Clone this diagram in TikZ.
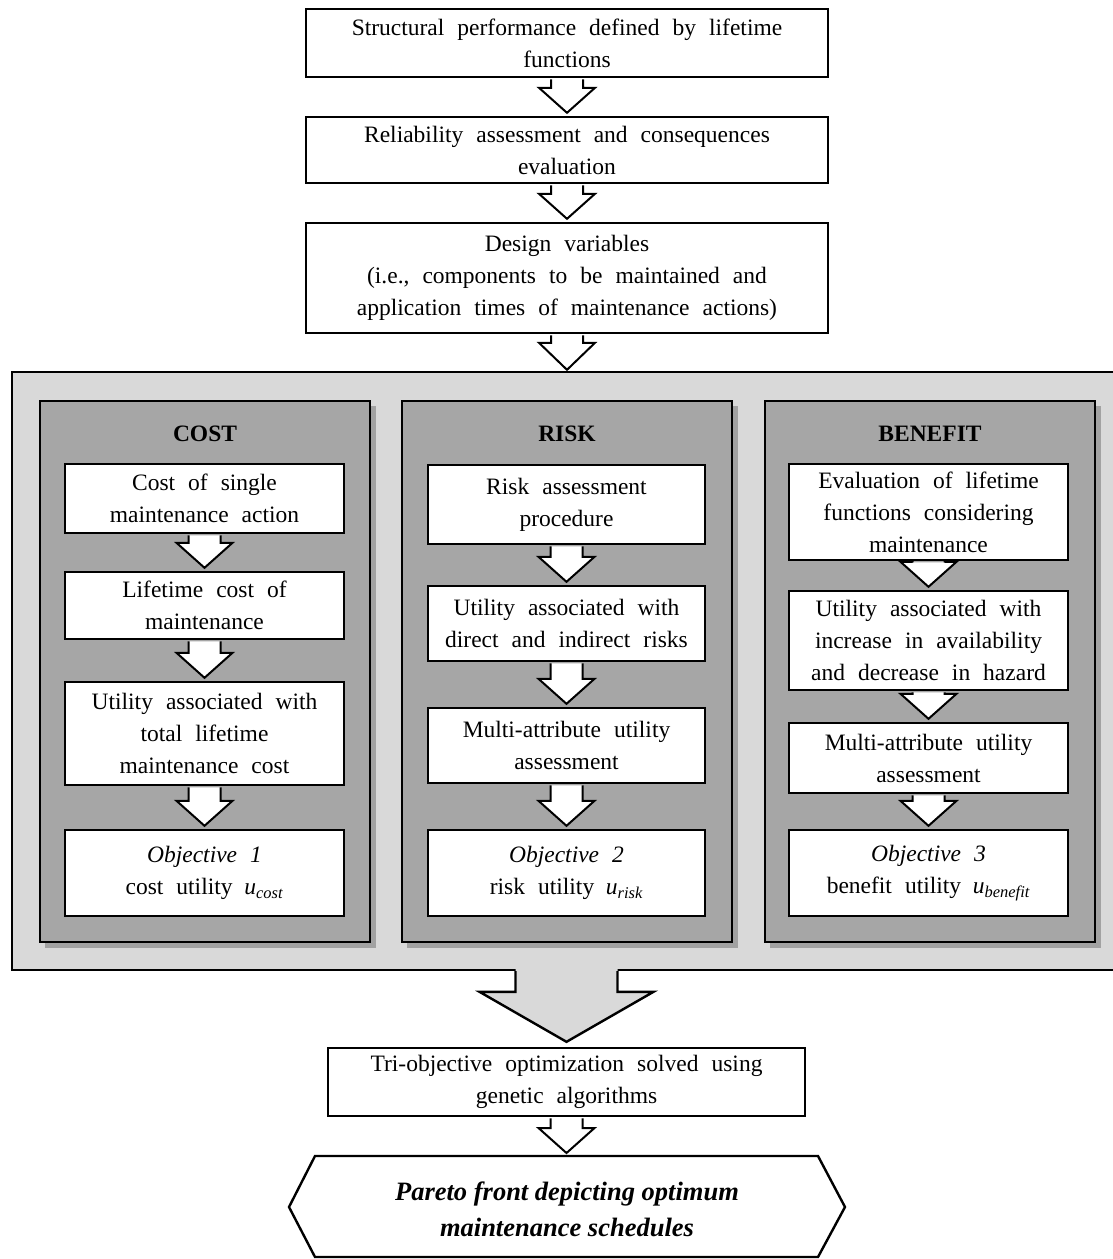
\documentclass[tikz,border=0pt]{standalone}
\usepackage{fontspec}
\setmainfont{Liberation Serif}
\usetikzlibrary{calc}
\definecolor{panelLight}{HTML}{D9D9D9}
\definecolor{panelMid}{HTML}{A6A6A6}

% wide word spacing used in the flow boxes
\newcommand\widewords{\spaceskip=13pt plus 3pt minus 2pt\relax}

% block arrow from the bottom of one node to the top of another
\newcommand\flowarrow[2]{%
  \draw[line width=2pt, fill=white, line join=miter]
    let \p1=(#1.south), \p2=(#2.north) in
    (\x1-16,\y1-1.2) -- (\x1-16,\y2+28) -- (\x1-28,\y2+28) -- (\x1,\y2+3)
    -- (\x1+28,\y2+28) -- (\x1+16,\y2+28) -- (\x1+16,\y1-1.2);
}

\begin{document}
\begin{tikzpicture}[x=1pt,y=-1pt,
  every node/.style={font=\fontsize{23.5}{32}\selectfont},
  box/.style={draw=black, line width=2.4pt, fill=white, align=center, inner sep=0pt,
    execute at begin node=\widewords},
  costcol/.style={box, minimum width=279pt},
  riskcol/.style={box, minimum width=277pt},
  benecol/.style={box, minimum width=279pt},
  panel/.style={draw=black, line width=2.4pt, fill=panelMid, minimum width=330pt, minimum height=541pt, inner sep=0pt},
  paneltitle/.style={font=\fontsize{23.5}{32}\selectfont\bfseries},
  shadowfill/.style={fill=black, opacity=0.25}
]
\useasboundingbox (0,0) rectangle (1113,1259);

% ---------- top chain ----------
\node[box, minimum width=522pt, minimum height=68pt] (perf) at (567,43)
  {Structural performance defined by lifetime\\functions};
\node[box, minimum width=522pt, minimum height=66pt] (rel) at (567,150)
  {Reliability assessment and consequences\\evaluation};
\node[box, minimum width=522pt, minimum height=110pt] (design) at (567,278)
  {Design variables\\(i.e., components to be maintained and\\application times of maintenance actions)};

% ---------- outer panel with the three objective columns ----------
\node[draw=black, line width=2.4pt, fill=panelLight, minimum width=1118pt, minimum height=598pt, inner sep=0pt]
  (outer) at (571,671) {};

\fill[shadowfill] (45,406) rectangle (376,948);
\fill[shadowfill] (407,406) rectangle (738,948);
\fill[shadowfill] (770,406) rectangle (1101,948);

\node[panel] (costp) at (205,671.5) {};
\node[panel] (riskp) at (567,671.5) {};
\node[panel] (benep) at (930,671.5) {};

\node[paneltitle] (costt) at (205,434) {COST};
\node[paneltitle] (riskt) at (567,434) {RISK};
\node[paneltitle] (benet) at (930,434) {BENEFIT};

% cost column
\node[costcol, minimum height=69pt] (c1) at (204.5,498.5) {Cost of single\\maintenance action};
\node[costcol, minimum height=67pt] (c2) at (204.5,605.5) {Lifetime cost of\\maintenance};
\node[costcol, minimum height=103pt] (c3) at (204.5,733.5) {Utility associated with\\total lifetime\\maintenance cost};
\node[costcol, minimum height=86pt] (c4) at (204.5,873) {\textit{Objective 1}\\cost utility\enspace\textit{u}\textsubscript{\textit{cost}}};

% risk column
\node[riskcol, minimum height=79pt] (r1) at (566.5,504.5) {Risk assessment\\procedure};
\node[riskcol, minimum height=75pt] (r2) at (566.5,623.5) {Utility associated with\\direct and indirect risks};
\node[riskcol, minimum height=75pt] (r3) at (566.5,745.5) {Multi-attribute utility\\assessment};
\node[riskcol, minimum height=86pt] (r4) at (566.5,873) {\textit{Objective 2}\\risk utility\enspace\textit{u}\textsubscript{\textit{risk}}};

% benefit column
\node[benecol, minimum height=96pt] (e1) at (928.5,512) {Evaluation of lifetime\\functions considering\\maintenance};
\node[benecol, minimum height=99pt] (e2) at (928.5,640.5) {Utility associated with\\increase in availability\\and decrease in hazard};
\node[benecol, minimum height=70pt] (e3) at (928.5,758) {Multi-attribute utility\\assessment};
\node[benecol, minimum height=86pt] (e4) at (928.5,873) {\textit{Objective 3}\\benefit utility\enspace\textit{u}\textsubscript{\textit{benefit}}};

% ---------- bottom chain ----------
\node[box, minimum width=477pt, minimum height=68pt] (tri) at (566.5,1082)
  {Tri-objective optimization solved using\\genetic algorithms};

\draw[draw=black, line width=2.4pt, fill=white]
  (289,1207) -- (315,1156) -- (818,1156) -- (845,1207) -- (818,1257) -- (315,1257) -- cycle;
\coordinate (paretotop) at (567,1156);
\node[align=center, inner sep=0pt, font=\fontsize{26.5}{36}\selectfont\bfseries\itshape] (pareto) at (567,1209)
  {Pareto front depicting optimum\\maintenance schedules};

% ---------- arrows ----------
\flowarrow{perf}{rel}
\flowarrow{rel}{design}
\draw[line width=2pt, fill=white, line join=miter]
  let \p1=(design.south), \p2=(outer.north) in
  (\x1-16,\y1-1.2) -- (\x1-16,\y2+28) -- (\x1-28,\y2+28) -- (\x1,\y2+1)
  -- (\x1+28,\y2+28) -- (\x1+16,\y2+28) -- (\x1+16,\y1-1.2);

\flowarrow{c1}{c2}
\flowarrow{c2}{c3}
\flowarrow{c3}{c4}
\flowarrow{r1}{r2}
\flowarrow{r2}{r3}
\flowarrow{r3}{r4}
\flowarrow{e1}{e2}
\flowarrow{e2}{e3}
\flowarrow{e3}{e4}

% wide arrow leaving the outer panel
\fill[panelLight]
  (566.5-51,970-1.5) -- (566.5-51,993) -- (566.5-87,993) -- (566.5,1043)
  -- (566.5+87,993) -- (566.5+51,993) -- (566.5+51,970-1.5) -- cycle;
\draw[line width=2.4pt, line join=miter]
  let \p1=(outer.south), \p2=(tri.north) in
  (\x2-51,\y1) -- (\x2-51,\y2+55) -- (\x2-87,\y2+55) -- (\x2,\y2+5)
  -- (\x2+87,\y2+55) -- (\x2+51,\y2+55) -- (\x2+51,\y1);

\flowarrow{tri}{paretotop}
\end{tikzpicture}
\end{document}
